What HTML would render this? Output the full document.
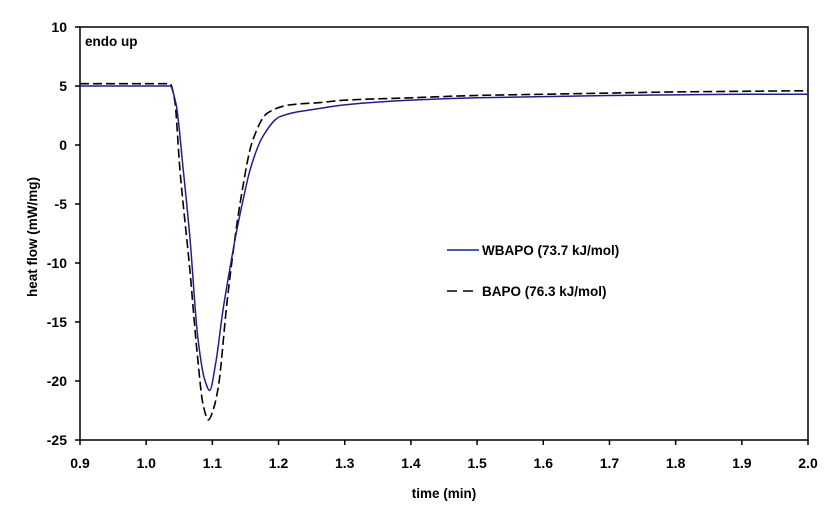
<!DOCTYPE html>
<html><head><meta charset="utf-8"><style>
html,body{margin:0;padding:0;background:#fff;}
svg{display:block;font-family:"Liberation Sans",Arial,sans-serif;font-weight:bold;}
</style></head><body>
<svg id="chart" width="835" height="520" viewBox="0 0 835 520" xmlns="http://www.w3.org/2000/svg">
<g id="axes"></g>
<g id="series"></g>
<text x="85" y="46" font-size="13.5">endo up</text>
<g>
  <line x1="447" y1="250" x2="479" y2="250" stroke="#1f1f8a" stroke-width="1.5"/>
  <text x="482" y="255" font-size="13.5">WBAPO (73.7 kJ/mol)</text>
  <line x1="447" y1="291" x2="479" y2="291" stroke="#000" stroke-width="1.5" stroke-dasharray="10,6"/>
  <text x="482" y="296" font-size="13.5">BAPO (76.3 kJ/mol)</text>
</g>
<text transform="translate(37,237) rotate(-90)" text-anchor="middle" font-size="13.5">heat flow (mW/mg)</text>
<text x="444" y="498" text-anchor="middle" font-size="13.5">time (min)</text>
</svg>
<script>
const xTicks = [0.9,1.0,1.1,1.2,1.3,1.4,1.5,1.6,1.7,1.8,1.9,2.0];
const yTicks = [10,5,0,-5,-10,-15,-20,-25];
const wbapoT = [0.9,1.036,1.045,1.056,1.066,1.078,1.088,1.096,1.105,1.116,1.127,1.137,1.147,1.157,1.176,1.202,1.263,1.3,1.4,1.5,1.6,1.7,1.8,1.9,2.0];
const wbapoV = [5.0,5.0,3.5,-2.1,-7.8,-16.3,-19.8,-20.8,-18.5,-14.0,-10.3,-7.2,-4.5,-2.1,0.7,2.4,3.1,3.4,3.8,4.0,4.1,4.2,4.25,4.3,4.3];
const bapoT = [0.9,1.036,1.043,1.051,1.066,1.077,1.086,1.094,1.102,1.109,1.122,1.132,1.142,1.161,1.183,1.217,1.263,1.3,1.4,1.5,1.6,1.7,1.8,1.9,2.0];
const bapoV = [5.2,5.2,3.8,-2.1,-10.6,-17.6,-22.0,-23.3,-22.3,-20.5,-13.4,-8.8,-4.9,0.4,2.7,3.4,3.6,3.8,4.0,4.2,4.3,4.4,4.5,4.55,4.6];

const L=80,R=808,T=27,B=440,x0=0.9,x1=2.0,y0=-25,y1=10;
const NS="http://www.w3.org/2000/svg";
function xs(t){return L+(t-x0)/(x1-x0)*(R-L);}
function ys(v){return B-(v-y0)/(y1-y0)*(B-T);}
function mk(tag,attrs,parent){const e=document.createElementNS(NS,tag);for(const k in attrs)e.setAttribute(k,attrs[k]);parent.appendChild(e);return e;}
const axes=document.getElementById('axes');
const frame=mk('rect',{x:L,y:T,width:R-L,height:B-T,fill:'none',stroke:'#000','stroke-width':1.5},axes);


xTicks.forEach(t=>{
  const x=xs(t);
  const tk=mk('line',{x1:x,y1:B,x2:x,y2:B+5,stroke:'#000','stroke-width':1.5},axes);
  
  
  const lb=mk('text',{x:x,y:B+28,'text-anchor':'middle','font-size':14},axes);
  lb.textContent=t.toFixed(1);
  
  
});
yTicks.forEach(v=>{
  const y=ys(v);
  const tk=mk('line',{x1:L-5,y1:y,x2:L,y2:y,stroke:'#000','stroke-width':1.5},axes);
  
  
  const lb=mk('text',{x:L-13,y:y+5,'text-anchor':'end','font-size':14},axes);
  lb.textContent=String(v);
  
  
});
// monotone cubic (Fritsch-Carlson) path
function pathD(ts,vs){
  const px=ts.map(xs), py=vs.map(ys), n=px.length;
  const d=[],m=new Array(n);
  for(let i=0;i<n-1;i++) d.push((py[i+1]-py[i])/(px[i+1]-px[i]));
  m[0]=d[0]; m[n-1]=d[n-2];
  for(let i=1;i<n-1;i++){
    if(d[i-1]*d[i]<=0) m[i]=0;
    else { const h0=px[i]-px[i-1],h1=px[i+1]-px[i];
      const w1=2*h1+h0,w2=h1+2*h0; m[i]=(w1+w2)/(w1/d[i-1]+w2/d[i]); }
  }
  let s='M'+px[0]+','+py[0];
  for(let i=0;i<n-1;i++){
    const h=(px[i+1]-px[i])/3;
    s+=' C'+(px[i]+h)+','+(py[i]+m[i]*h)+' '+(px[i+1]-h)+','+(py[i+1]-m[i+1]*h)+' '+px[i+1]+','+py[i+1];
  }
  return s;
}
const ser=document.getElementById('series');
const bl=mk('path',{d:pathD(bapoT,bapoV),fill:'none',stroke:'#000','stroke-width':1.6,'stroke-dasharray':'9,4'},ser);


const wl=mk('path',{d:pathD(wbapoT,wbapoV),fill:'none',stroke:'#1f1f8a','stroke-width':1.5},ser);


</script>
</body></html>
